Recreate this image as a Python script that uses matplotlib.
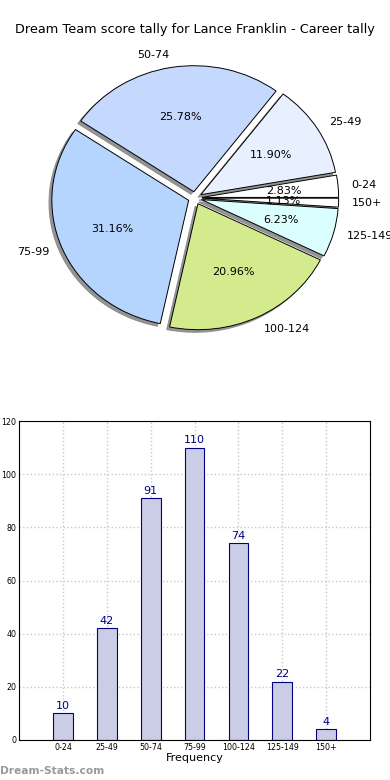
import numpy as np
import matplotlib.pyplot as plt

categories = ['0-24', '25-49', '50-74', '75-99', '100-124', '125-149', '150+']
counts = [10, 42, 91, 110, 74, 22, 4]
pie_colors = ['#ffffff', '#e8f0ff', '#c5d9ff', '#b5d5ff', '#d3eb8c', '#dbffff', '#ffffff']

fig = plt.figure(figsize=(3.9, 7.8), dpi=100)

fig.text(0.5, 1 - 30 / 780, 'Dream Team score tally for Lance Franklin - Career tally',
         ha='center', va='center', fontsize=9.3)

# Pie (slightly wider than tall, like the original)
ax1 = fig.add_axes([0.0615, 0.5442, 0.877, 0.404])
wedges, texts, autotexts = ax1.pie(
    counts,
    labels=categories,
    colors=pie_colors,
    explode=[0.05] * len(counts),
    autopct='%1.2f%%',
    shadow={'ox': -0.015, 'oy': -0.015, 'color': '#888888', 'alpha': 0.9},
    startangle=0,
    wedgeprops={'edgecolor': 'black', 'linewidth': 0.7},
    textprops={'fontsize': 8}
)
ax1.set_aspect('auto')
ax1.set_xlim(-1.25, 1.25)
ax1.set_ylim(-1.25, 1.25)

# Bars
ax2 = fig.add_axes([0.049, 0.0513, 0.9, 0.4087])
x = np.arange(len(categories))
bars = ax2.bar(x, counts, width=0.45, color='#cbcce6', edgecolor='navy', linewidth=0.8, zorder=2)
for xi, c in zip(x, counts):
    ax2.text(xi, c + 1, str(c), ha='center', va='bottom', color='navy', fontsize=8)
ax2.set_xlim(-1, 7)
ax2.set_ylim(0, 120)
ax2.set_yticks(range(0, 121, 20))
ax2.set_xticks(x)
ax2.set_xticklabels(categories)
ax2.tick_params(labelsize=5.7, length=0, pad=2)
ax2.grid(True, linestyle=':', color='#c8c8c8', linewidth=1, zorder=0)
ax2.set_axisbelow(True)
ax2.set_xlabel('Frequency', fontsize=8, labelpad=1)

fig.text(0.0, 1 - 771 / 780, 'Dream-Stats.com', color='#999999', fontsize=7.7,
         fontweight='bold', ha='left', va='center')

fig.savefig('out.png', dpi=100)
